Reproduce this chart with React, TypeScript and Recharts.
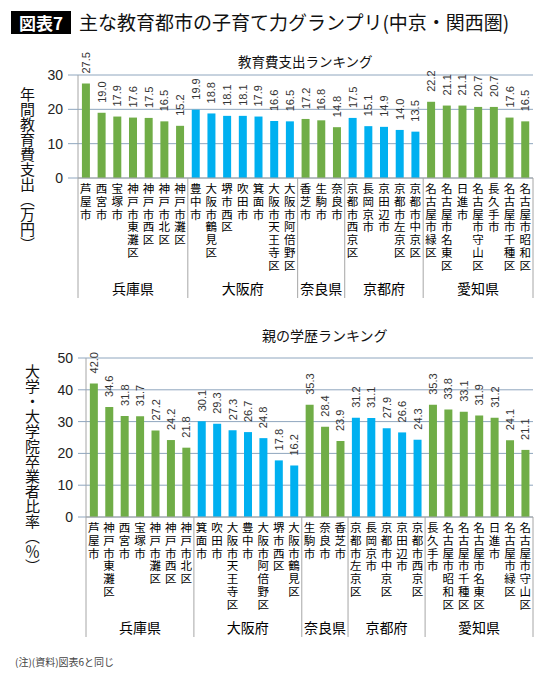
import React from 'react';
import { BarChart, Bar, XAxis, YAxis, CartesianGrid, Cell, LabelList } from 'recharts';

const PREFS = ['兵庫県', '大阪府', '奈良県', '京都府', '愛知県'];
const PREF_COLORS = ['#70ad47', '#00b0f0', '#70ad47', '#00b0f0', '#70ad47'];
const GROUP_SIZES = [7, 7, 3, 5, 7];

const spendCities = [
  '芦屋市', '西宮市', '宝塚市', '神戸市東灘区', '神戸市西区', '神戸市北区', '神戸市灘区',
  '豊中市', '大阪市鶴見区', '堺市西区', '吹田市', '箕面市', '大阪市天王寺区', '大阪市阿倍野区',
  '香芝市', '生駒市', '奈良市',
  '京都市西京区', '長岡京市', '京田辺市', '京都市左京区', '京都市中京区',
  '名古屋市緑区', '名古屋市名東区', '日進市', '名古屋市守山区', '長久手市', '名古屋市千種区', '名古屋市昭和区',
];
const spendValues = [
  27.5, 19.0, 17.9, 17.6, 17.5, 16.5, 15.2,
  19.9, 18.8, 18.1, 18.1, 17.9, 16.6, 16.5,
  17.2, 16.8, 14.8,
  17.5, 15.1, 14.9, 14.0, 13.5,
  22.2, 21.1, 21.1, 20.7, 20.7, 17.6, 16.5,
];
const spendTicks = [0, 10, 20, 30];

const eduCities = [
  '芦屋市', '神戸市東灘区', '西宮市', '宝塚市', '神戸市灘区', '神戸市西区', '神戸市北区',
  '箕面市', '吹田市', '大阪市天王寺区', '豊中市', '大阪市阿倍野区', '堺市西区', '大阪市鶴見区',
  '生駒市', '奈良市', '香芝市',
  '京都市左京区', '長岡京市', '京都市中京区', '京田辺市', '京都市西京区',
  '長久手市', '名古屋市昭和区', '名古屋市千種区', '名古屋市名東区', '日進市', '名古屋市緑区', '名古屋市守山区',
];
const eduValues = [
  42.0, 34.6, 31.8, 31.7, 27.2, 24.2, 21.8,
  30.1, 29.3, 27.3, 26.7, 24.8, 17.8, 16.2,
  35.3, 28.4, 23.9,
  31.2, 31.1, 27.9, 26.6, 24.3,
  35.3, 33.8, 33.1, 31.9, 31.2, 24.1, 21.1,
];
const eduTicks = [0, 10, 20, 30, 40, 50];

// prefecture index for every category position
const prefOf: number[] = GROUP_SIZES.flatMap((n, g) => Array(n).fill(g));
const groupStart: number[] = GROUP_SIZES.map((_, g) => GROUP_SIZES.slice(0, g).reduce((a, b) => a + b, 0));

const JP = '"Noto Sans CJK JP", "Noto Sans", sans-serif';
const NUM = '"Liberation Sans Narrow", "Liberation Sans", Arial, sans-serif';
const GRID = '#8fa6be';
const AXIS = '#a6a6a6';

const W = 550;
const PLOT_LEFT_TOP = 78;
const PLOT_LEFT_BOT = 86;
const PLOT_RIGHT = 533;
const CHAR_STEP = 12.8;

function makeCatTick(count: number, band: number) {
  return (props: any) => {
    const { x, y, payload } = props;
    const i: number = props.index ?? payload.index;
    const name: string = String(payload.value);
    const g = prefOf[i];
    const start = groupStart[g];
    const mid = start + Math.floor(GROUP_SIZES[g] / 2);
    return (
      <g>
        {name.split('').map((c, k) => (
          <text key={k} x={x} y={y + 15 + k * CHAR_STEP} textAnchor="middle" fontSize={11.5} fill="#000" fontFamily={JP}>
            {c}
          </text>
        ))}
        {i === start && (
          <line x1={x - band / 2} x2={x - band / 2} y1={y} y2={y + 120} stroke={AXIS} strokeWidth={1} />
        )}
        {i === count - 1 && (
          <line x1={x + band / 2} x2={x + band / 2} y1={y} y2={y + 120} stroke={AXIS} strokeWidth={1} />
        )}
        {i === mid && (
          <text x={x} y={y + 116} textAnchor="middle" fontSize={14} fill="#000" fontFamily={JP}>
            {PREFS[g]}
          </text>
        )}
      </g>
    );
  };
}

const ValueLabel = (props: any) => {
  const { x, y, width, value } = props;
  const cx = x + width / 2;
  const ty = y - 10;
  return (
    <text
      x={cx}
      y={ty}
      transform={`rotate(-90 ${cx} ${ty})`}
      textAnchor="start"
      dominantBaseline="central"
      fontSize={11}
      fill="#333"
      fontFamily='"Liberation Sans", Arial, sans-serif'
    >
      {Number(value).toFixed(1)}
    </text>
  );
};

const spendData = spendCities.map((name, i) => ({ name, value: spendValues[i] }));
const eduData = eduCities.map((name, i) => ({ name, value: eduValues[i] }));

interface RankChartProps {
  data: { name: string; value: number }[];
  ticks: number[];
  height: number;
  plotTop: number;
  plotBottom: number;
  plotLeft: number;
  tickSize: number;
}

const RankChart: React.FC<RankChartProps> = ({ data, ticks, height, plotTop, plotBottom, plotLeft, tickSize }) => {
  const band = (PLOT_RIGHT - plotLeft) / data.length;
  const yAxisWidth = 40;
  return (
    <BarChart
      width={W}
      height={height}
      data={data}
      margin={{ top: plotTop, right: W - PLOT_RIGHT, left: plotLeft - yAxisWidth, bottom: 0 }}
      barCategoryGap="25%"
    >
      <CartesianGrid vertical={false} stroke={GRID} />
      <XAxis
        dataKey="name"
        interval={0}
        height={height - plotBottom}
        tickSize={0}
        tickMargin={0}
        axisLine={{ stroke: AXIS }}
        tickLine={false}
        tick={makeCatTick(data.length, band)}
      />
      <YAxis
        width={yAxisWidth}
        domain={[0, ticks[ticks.length - 1]]}
        ticks={ticks}
        interval={0}
        tickSize={tickSize}
        tickMargin={5}
        axisLine={{ stroke: AXIS }}
        tickLine={{ stroke: GRID }}
        tick={{ fontSize: 14, fill: '#222', fontFamily: NUM }}
      />
      <Bar dataKey="value" isAnimationActive={false}>
        {data.map((_, i) => (
          <Cell key={i} fill={PREF_COLORS[prefOf[i]]} />
        ))}
        <LabelList dataKey="value" content={ValueLabel} />
      </Bar>
    </BarChart>
  );
};

const vertLabel: React.CSSProperties = {
  position: 'absolute',
  writingMode: 'vertical-rl',
  fontFamily: JP,
  fontSize: 15,
  color: '#111',
  lineHeight: '15px',
};

export default function App() {
  return (
    <div style={{ position: 'absolute', left: 0, top: 0, width: W, height: 675, background: '#fff', overflow: 'hidden' }}>
      <div
        style={{
          position: 'absolute', left: 11, top: 11, width: 60, height: 23, background: '#000', color: '#fff',
          fontFamily: JP, fontWeight: 'bold', fontSize: 17, lineHeight: '23px', textAlign: 'center',
        }}
      >
        図表7
      </div>
      <div style={{ position: 'absolute', left: 79, top: 8, fontFamily: JP, fontSize: 19, lineHeight: '28px', color: '#111', whiteSpace: 'nowrap' }}>
        主な教育都市の子育て力グランプリ(中京・関西圏)
      </div>

      <div style={{ position: 'absolute', left: 0, top: 0 }}>
        <RankChart data={spendData} ticks={spendTicks} height={305} plotTop={75} plotBottom={178} plotLeft={PLOT_LEFT_TOP} tickSize={10} />
      </div>
      <div style={{ position: 'absolute', left: 238, top: 51, fontFamily: JP, fontSize: 13.5, color: '#111', whiteSpace: 'nowrap' }}>
        教育費支出ランキング
      </div>
      <div style={{ ...vertLabel, left: 20, top: 87 }}>年間教育費支出（万円）</div>

      <div style={{ position: 'absolute', left: 0, top: 320 }}>
        <RankChart data={eduData} ticks={eduTicks} height={320} plotTop={38} plotBottom={197} plotLeft={PLOT_LEFT_BOT} tickSize={8} />
      </div>
      <div style={{ position: 'absolute', left: 262, top: 325, fontFamily: JP, fontSize: 14, color: '#111', whiteSpace: 'nowrap' }}>
        親の学歴ランキング
      </div>
      <div style={{ ...vertLabel, left: 25, top: 364 }}>大学・大学院卒業者比率（％）</div>

      <div style={{ position: 'absolute', left: 15, top: 654, fontFamily: JP, fontSize: 10, color: '#444', whiteSpace: 'nowrap' }}>
        (注)(資料)図表6と同じ
      </div>
    </div>
  );
}
